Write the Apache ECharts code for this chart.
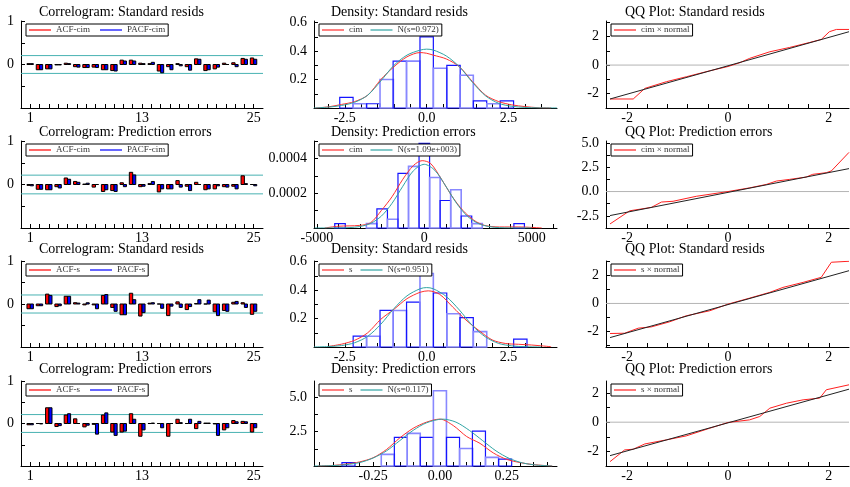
<!DOCTYPE html>
<html><head><meta charset="utf-8">
<script src="https://cdn.jsdelivr.net/npm/echarts@6/dist/echarts.min.js"></script>
<style>html,body{margin:0;padding:0;background:#fff}#c{width:850px;height:487px}</style>
</head><body><div id="c"></div>
<script>
// ---------------- DATA ----------------
const lags = [1,2,3,4,5,6,7,8,9,10,11,12,13,14,15,16,17,18,19,20,21,22,23,24,25];
const corrXLabels = [1,13,25];

const acfCimStd  = [0.02,-0.12,-0.1,-0.01,0.03,-0.05,-0.07,-0.06,-0.12,-0.14,0.1,0.1,0.03,0.02,-0.15,-0.05,0.02,-0.05,0.13,-0.14,-0.1,0.03,0.04,0.14,0.15];
const pacfCimStd = [0.02,-0.12,-0.1,-0.01,0.02,-0.06,-0.07,-0.07,-0.12,-0.15,0.08,0.08,0.02,0.05,-0.19,-0.12,-0.03,-0.13,0.12,-0.12,-0.06,0.0,-0.05,0.12,0.12];
const acfCimPred  = [-0.02,-0.11,-0.12,-0.05,0.15,0.07,0.01,-0.06,-0.16,-0.14,0.04,0.28,-0.05,0.02,-0.17,-0.1,0.09,-0.04,0.05,-0.12,-0.1,-0.05,-0.04,0.2,0.0];
const pacfCimPred = [-0.03,-0.11,-0.12,-0.08,0.12,0.05,0.03,0.0,-0.12,-0.16,-0.05,0.22,-0.04,0.07,-0.1,-0.1,-0.06,-0.14,0.0,-0.1,-0.03,-0.06,-0.1,0.02,-0.03];
const acfSStd  = [-0.11,-0.04,0.23,-0.06,0.18,0.03,-0.02,-0.02,0.2,-0.08,-0.25,0.25,-0.28,0.02,0.0,-0.27,0.05,-0.13,0.01,0.0,-0.18,-0.15,0.04,0.03,-0.24];
const pacfSStd = [-0.11,-0.04,0.2,-0.04,0.18,0.02,0.03,-0.11,0.22,-0.17,-0.25,0.1,-0.2,0.03,-0.1,-0.05,-0.08,-0.06,0.1,0.09,-0.27,-0.17,0.06,-0.08,-0.17];
const acfSPred  = [-0.03,0.0,0.37,-0.07,0.2,0.11,-0.08,-0.02,0.2,-0.2,-0.2,0.23,-0.3,0.0,0.0,-0.3,0.1,0.0,-0.12,0.01,-0.01,-0.15,0.07,0.05,-0.2];
const pacfSPred = [-0.03,-0.01,0.37,-0.05,0.23,0.0,-0.04,-0.25,0.25,-0.28,-0.18,0.1,-0.15,0.01,-0.1,0.0,0.02,0.1,0.05,0.01,-0.28,-0.1,0.04,0.04,-0.1];
const corrBands = [0.205, 0.215, 0.21, 0.21];

// histograms: bin centres, heights, bin width
const histCimStdX = [-2.45,-2.04,-1.63,-1.22,-0.82,-0.41,0,0.41,0.82,1.22,1.63,2.04,2.45];
const histCimStdY = [0.075,0.03,0.03,0.2,0.33,0.33,0.5,0.28,0.3,0.23,0.05,0.03,0.05];
const histCimPredX = [-3920,-2450,-1960,-1470,-980,-490,0,490,980,1470,1960,2450,4410];
const histCimPredY = [0.000025,0.000025,0.00011,0.00005,0.000314,0.000354,0.000486,0.00029,0.000158,0.00022,0.000069,0.000025,0.000025];
const histSStdX = [-2.04,-1.63,-1.22,-0.82,-0.41,0,0.41,0.82,1.22,1.63,2.86];
const histSStdY = [0.076,0.076,0.257,0.257,0.315,0.517,0.38,0.234,0.207,0.108,0.055];
const histSPredX = [-0.342,-0.195,-0.146,-0.098,-0.049,0,0.049,0.098,0.146,0.195,0.244];
const histSPredY = [0.24,0.85,2.09,2.38,2.09,5.49,2.09,1.28,2.55,0.63,0.5];
const binWidths = [0.408, 490, 0.408, 0.0488];

// density curves [x, density]
const kdeCimStd = [[-3.4,0],[-3.0,0.008],[-2.6,0.025],[-2.2,0.045],[-1.8,0.09],[-1.4,0.2],[-1.0,0.29],[-0.6,0.36],[-0.2,0.39],[0,0.385],[0.2,0.372],[0.6,0.345],[1.0,0.29],[1.4,0.185],[1.8,0.09],[2.2,0.045],[2.6,0.022],[3.0,0.01],[3.4,0.002],[3.8,0]];
const normCimStd = [[-3.44,0],[-3.0,0.006],[-2.6,0.018],[-2.2,0.04],[-1.8,0.09],[-1.4,0.19],[-1.0,0.3],[-0.6,0.372],[-0.2,0.407],[0,0.414],[0.2,0.408],[0.6,0.366],[1.0,0.29],[1.4,0.18],[1.8,0.085],[2.2,0.033],[2.6,0.012],[3.0,0.004],[3.4,0.001],[3.98,0]];
const kdeCimPred = [[-4630,0],[-4000,0.00001],[-3000,0.000015],[-2500,0.00003],[-2000,0.0001],[-1500,0.00018],[-1000,0.00028],[-500,0.00036],[-100,0.000387],[300,0.00037],[800,0.00028],[1300,0.00018],[1800,0.0001],[2300,0.000045],[2800,0.000015],[3500,0.000006],[4400,0.000006],[5460,0]];
const normCimPred = [[-5100,0],[-4000,0.0000004],[-3500,0.0000021],[-3000,0.0000083],[-2500,0.0000264],[-2000,0.000068],[-1500,0.000142],[-1000,0.00024],[-500,0.00033],[0,0.000366],[500,0.00033],[1000,0.00024],[1500,0.000142],[2000,0.000068],[2500,0.0000264],[3000,0.0000083],[3500,0.0000021],[4000,0.0000004],[5000,0]];
const kdeSStd = [[-3.0,0.004],[-2.6,0.02],[-2.2,0.047],[-1.8,0.1],[-1.4,0.195],[-1.0,0.265],[-0.6,0.34],[-0.2,0.385],[0.05,0.395],[0.4,0.37],[0.8,0.28],[1.2,0.19],[1.6,0.115],[2.0,0.05],[2.4,0.025],[2.8,0.019],[3.2,0.014],[3.8,0.002]];
const normSStd = [[-3.44,0],[-3.0,0.003],[-2.6,0.01],[-2.2,0.03],[-1.8,0.075],[-1.4,0.16],[-1.0,0.27],[-0.6,0.36],[-0.2,0.41],[0,0.418],[0.2,0.41],[0.6,0.355],[1.0,0.26],[1.4,0.15],[1.8,0.07],[2.2,0.025],[2.6,0.008],[3.0,0.002],[3.5,0]];
const kdeSPred = [[-0.456,0],[-0.4,0.04],[-0.35,0.14],[-0.3,0.3],[-0.25,0.6],[-0.2,1.2],[-0.15,2.05],[-0.1,2.75],[-0.05,3.2],[0.0,3.42],[0.05,2.95],[0.1,2.15],[0.15,1.65],[0.2,0.95],[0.25,0.48],[0.3,0.25],[0.35,0.1],[0.42,0]];
const normSPred = [[-0.47,0],[-0.4,0.03],[-0.35,0.1],[-0.3,0.25],[-0.25,0.58],[-0.2,1.1],[-0.15,1.85],[-0.1,2.6],[-0.05,3.15],[0.01,3.42],[0.06,3.2],[0.11,2.6],[0.16,1.85],[0.21,1.1],[0.26,0.55],[0.31,0.22],[0.36,0.07],[0.42,0]];

// QQ plots [normal quantile, sample quantile]
const qqCimStd = [[-2.34,-2.37],[-1.88,-2.37],[-1.65,-1.63],[-1.22,-1.16],[-0.82,-0.81],[-0.36,-0.4],[0,-0.1],[0.23,0.16],[0.43,0.47],[0.83,0.93],[1.22,1.23],[1.62,1.58],[1.85,1.79],[2.01,2.33],[2.15,2.49],[2.4,2.49]];
const qqLineCimStd = [[-2.34,-2.37],[2.4,2.33]];
const qqCimPred = [[-2.34,-3.33],[-1.95,-1.98],[-1.52,-1.63],[-1.32,-1.08],[-1.09,-1.0],[-0.63,-0.49],[0,0],[0.43,0.38],[0.76,0.73],[0.96,1.08],[1.22,1.25],[1.55,1.49],[1.68,1.77],[1.95,1.94],[2.05,2.12],[2.4,4.03]];
const qqLineCimPred = [[-2.34,-2.47],[2.4,2.36]];
const qqSStd = [[-2.34,-2.14],[-2.05,-2.12],[-1.78,-1.76],[-1.52,-1.67],[-1.16,-1.31],[-0.83,-0.88],[-0.36,-0.52],[0,-0.05],[0.43,0.38],[0.83,0.79],[1.09,1.14],[1.49,1.5],[1.85,1.86],[2.05,2.93],[2.4,3.0]];
const qqLineSStd = [[-2.34,-2.43],[2.4,2.33]];
const qqSPred = [[-2.34,-2.7],[-2.05,-1.9],[-1.88,-1.85],[-1.65,-1.49],[-1.22,-1.21],[-0.83,-0.94],[-0.36,-0.41],[0,-0.02],[0.43,0.16],[0.63,0.39],[0.83,0.96],[1.16,1.3],[1.49,1.53],[1.82,1.65],[1.95,2.22],[2.4,2.56]];
const qqLineSPred = [[-2.34,-2.29],[2.4,2.26]];

// tick labels
const densXLabelsStd = [-2.5,0,2.5];
const densXLabelsPred = [-5000,0,5000];
const densXLabelsSPred = [-0.25,0,0.25];
const qqXLabels = [-2,0,2];

const titles = [
  ['Correlogram: Standard resids','Density: Standard resids','QQ Plot: Standard resids'],
  ['Correlogram: Prediction errors','Density: Prediction errors','QQ Plot: Prediction errors'],
  ['Correlogram: Standard resids','Density: Standard resids','QQ Plot: Standard resids'],
  ['Correlogram: Prediction errors','Density: Prediction errors','QQ Plot: Prediction errors']
];

// ---------------- LAYOUT / STYLE ----------------
const SERIF = '"Liberation Serif","Times New Roman",serif';
const colLeft = [21, 314, 606];
const colWidth = [242, 243, 243];
const rowTop = [21, 141, 261, 381];
const rowHeight = [87, 87, 86, 85];
const titleTop = [5, 125, 242, 362];
const titleLeft = [39, 331, 625];
const RED = '#ff0000', BLUE = '#0000ff', TEAL = '#30a4a4', BAND = '#48b2b2';

function range(a, b, s) { const r = []; for (let v = a; v <= b + s * 1e-6; v += s) r.push(+v.toFixed(6)); return r; }

const grids = [], xAxes = [], yAxes = [], series = [], legends = [], titleCmp = [];

function mkAxis(kind, g, o) {
  return {
    type: 'value', gridIndex: g, min: o.min, max: o.max,
    axisLine: { show: true, onZero: false, lineStyle: { color: '#000', width: 1 } },
    axisTick: { show: true, inside: true, length: 4, customValues: o.ticks, lineStyle: { color: '#000', width: 1 } },
    axisLabel: { show: true, customValues: o.labels, formatter: o.fmt, color: '#000', fontFamily: SERIF, fontSize: 14,
      margin: kind === 'x' ? 3 : 7, hideOverlap: false },
    splitLine: { show: false }
  };
}

function mkLegend(g, items, gap) {
  const r = Math.floor(g / 3), c = g % 3;
  return {
    left: colLeft[c] + 5, top: rowTop[r] + 3, orient: 'horizontal', selectedMode: false,
    data: items.map(([name, color]) => ({ name, icon: 'rect', itemStyle: { color, borderWidth: 0 } })),
    itemWidth: 22, itemHeight: 1.2, itemGap: gap, padding: [1, 3],
    borderColor: '#000', borderWidth: 1, backgroundColor: '#fff',
    itemStyle: { borderWidth: 0 },
    textStyle: { fontFamily: SERIF, fontSize: 9, color: '#333', lineHeight: 10 }
  };
}

function lineSeries(g, name, data, color, smooth, z) {
  return { type: 'line', name, xAxisIndex: g, yAxisIndex: g, data, symbol: 'none', showSymbol: false,
    smooth: smooth, lineStyle: { color, width: 1 }, itemStyle: { color },
    silent: true, z: z || 2 };
}

function barsSeries(g, name, values, color, side) {
  return {
    type: 'custom', name, xAxisIndex: g, yAxisIndex: g, itemStyle: { color },
    data: values.map((v, i) => [lags[i], v]), silent: true, z: 3,
    renderItem: (params, api) => {
      const k = api.value(0), v = api.value(1);
      const x0 = side < 0 ? k - 0.36 : k, x1 = side < 0 ? k : k + 0.33;
      const p0 = api.coord([x0, 0]), p1 = api.coord([x1, v]);
      return { type: 'rect',
        shape: { x: Math.min(p0[0], p1[0]), y: Math.min(p0[1], p1[1]), width: Math.abs(p1[0] - p0[0]), height: Math.abs(p1[1] - p0[1]) },
        style: { fill: color, stroke: '#000', lineWidth: 1 } };
    }
  };
}

function histSeries(g, xs, ys, w) {
  return {
    type: 'custom', name: 'hist' + g, xAxisIndex: g, yAxisIndex: g, silent: true, z: 1,
    data: xs.map((x, i) => [x, ys[i]]),
    renderItem: (params, api) => {
      const x = api.value(0), h = api.value(1);
      const p0 = api.coord([x - w / 2, 0]), p1 = api.coord([x + w / 2, h]);
      const light = params.dataIndex % 2 === 1;
      return { type: 'rect',
        shape: { x: p0[0], y: p1[1], width: p1[0] - p0[0], height: p0[1] - p1[1] },
        style: { fill: 'none', stroke: light ? '#8888ff' : '#1414ff', lineWidth: light ? 1.6 : 1.2 } };
    }
  };
}

// grids & titles
for (let r = 0; r < 4; r++) for (let c = 0; c < 3; c++) {
  grids.push({ left: colLeft[c], top: rowTop[r], width: colWidth[c], height: rowHeight[r], containLabel: false });
  titleCmp.push({ text: titles[r][c], left: titleLeft[c], top: titleTop[r], padding: 0,
    textStyle: { fontFamily: SERIF, fontSize: 14, fontWeight: 'normal', color: '#000' } });
}

// ---- correlograms ----
const corr = [
  [acfCimStd, pacfCimStd, 'ACF-cim', 'PACF-cim'],
  [acfCimPred, pacfCimPred, 'ACF-cim', 'PACF-cim'],
  [acfSStd, pacfSStd, 'ACF-s', 'PACF-s'],
  [acfSPred, pacfSPred, 'ACF-s', 'PACF-s']
];
corr.forEach((p, r) => {
  const g = r * 3;
  xAxes.push(mkAxis('x', g, { min: 0, max: 26, ticks: lags, labels: corrXLabels, fmt: v => String(v) }));
  yAxes.push(mkAxis('y', g, { min: -1, max: 1, ticks: [-1, -0.5, 0, 0.5, 1], labels: [0, 1], fmt: v => String(v) }));
  series.push(lineSeries(g, 'bandU' + r, [[0, corrBands[r]], [26, corrBands[r]]], BAND, false, 1));
  series.push(lineSeries(g, 'bandL' + r, [[0, -corrBands[r]], [26, -corrBands[r]]], BAND, false, 1));
  series.push(barsSeries(g, p[2], p[0], RED, -1));
  series.push(barsSeries(g, p[3], p[1], BLUE, 1));
  legends.push(mkLegend(g, [[p[2], RED], [p[3], BLUE]], 10));
});

// ---- densities ----
const dens = [
  { hx: histCimStdX, hy: histCimStdY, kde: kdeCimStd, norm: normCimStd, k: 'cim', n: 'N(s=0.972)',
    xmin: -3.44, xmax: 3.98, xl: densXLabelsStd, xt: range(-3, 3.5, 0.5), xf: v => v.toFixed(1),
    ymax: 0.612, yt: range(0, 0.6, 0.1), yl: [0.2, 0.4, 0.6], yf: v => v.toFixed(1) },
  { hx: histCimPredX, hy: histCimPredY, kde: kdeCimPred, norm: normCimPred, k: 'cim', n: 'N(s=1.09e+003)',
    xmin: -5130, xmax: 6170, xl: densXLabelsPred, xt: range(-5000, 6000, 1000), xf: v => String(v),
    ymax: 0.0005, yt: range(0, 0.0005, 0.0001), yl: [0.0002, 0.0004], yf: v => v.toFixed(4) },
  { hx: histSStdX, hy: histSStdY, kde: kdeSStd, norm: normSStd, k: 's', n: 'N(s=0.951)',
    xmin: -3.44, xmax: 3.98, xl: densXLabelsStd, xt: range(-3, 3.5, 0.5), xf: v => v.toFixed(1),
    ymax: 0.605, yt: range(0, 0.6, 0.1), yl: [0.2, 0.4, 0.6], yf: v => v.toFixed(1) },
  { hx: histSPredX, hy: histSPredY, kde: kdeSPred, norm: normSPred, k: 's', n: 'N(s=0.117)',
    xmin: -0.471, xmax: 0.438, xl: densXLabelsSPred, xt: range(-0.45, 0.4, 0.05), xf: v => v.toFixed(2),
    ymax: 6.2, yt: range(0, 6.25, 1.25), yl: [2.5, 5], yf: v => v.toFixed(1) }
];
dens.forEach((d, r) => {
  const g = r * 3 + 1;
  xAxes.push(mkAxis('x', g, { min: d.xmin, max: d.xmax, ticks: d.xt, labels: d.xl, fmt: d.xf }));
  yAxes.push(mkAxis('y', g, { min: 0, max: d.ymax, ticks: d.yt, labels: d.yl, fmt: d.yf }));
  series.push(histSeries(g, d.hx, d.hy, binWidths[r]));
  series.push(lineSeries(g, d.k, d.kde, '#ff3030', 0.3, 3));
  series.push(lineSeries(g, d.n, d.norm, TEAL, 0.3, 4));
  legends.push(mkLegend(g, [[d.k, '#ff3030'], [d.n, TEAL]], 8));
});

// ---- QQ plots ----
const qq = [
  { q: qqCimStd, l: qqLineCimStd, name: 'cim × normal', ymin: -3, ymax: 3.08, yt: range(-3, 3, 1), yl: [-2, 0, 2], yf: v => String(v) },
  { q: qqCimPred, l: qqLineCimPred, name: 'cim × normal', ymin: -3.75, ymax: 5.2, yt: range(-3.75, 5, 1.25), yl: [-2.5, 0, 2.5, 5], yf: v => v.toFixed(1) },
  { q: qqSStd, l: qqLineSStd, name: 's × normal', ymin: -3.1, ymax: 3.02, yt: range(-3, 3, 1), yl: [-2, 0, 2], yf: v => String(v) },
  { q: qqSPred, l: qqLineSPred, name: 's × normal', ymin: -3.0, ymax: 2.82, yt: range(-3, 2, 1), yl: [-2, 0, 2], yf: v => String(v) }
];
const qxMin = -2.42, qxMax = 2.4;
qq.forEach((d, r) => {
  const g = r * 3 + 2;
  xAxes.push(mkAxis('x', g, { min: qxMin, max: qxMax, ticks: range(-2, 2, 0.4), labels: qqXLabels, fmt: v => String(v) }));
  yAxes.push(mkAxis('y', g, { min: d.ymin, max: d.ymax, ticks: d.yt, labels: d.yl, fmt: d.yf }));
  series.push(lineSeries(g, 'zero' + r, [[qxMin, 0], [qxMax, 0]], '#b4b4b4', false, 1));
  series.push(lineSeries(g, d.name, d.q, '#ff2020', false, 2));
  series.push(lineSeries(g, 'fit' + r, d.l, '#222222', false, 3));
  legends.push(mkLegend(g, [[d.name, '#ff2020']], 10));
});

xAxes.sort((a, b) => a.gridIndex - b.gridIndex);
yAxes.sort((a, b) => a.gridIndex - b.gridIndex);

const chart = echarts.init(document.getElementById('c'), null, { renderer: 'canvas' });
chart.setOption({
  animation: false,
  backgroundColor: '#fff',
  title: titleCmp,
  grid: grids,
  xAxis: xAxes,
  yAxis: yAxes,
  legend: legends,
  series: series
});
</script></body></html>
